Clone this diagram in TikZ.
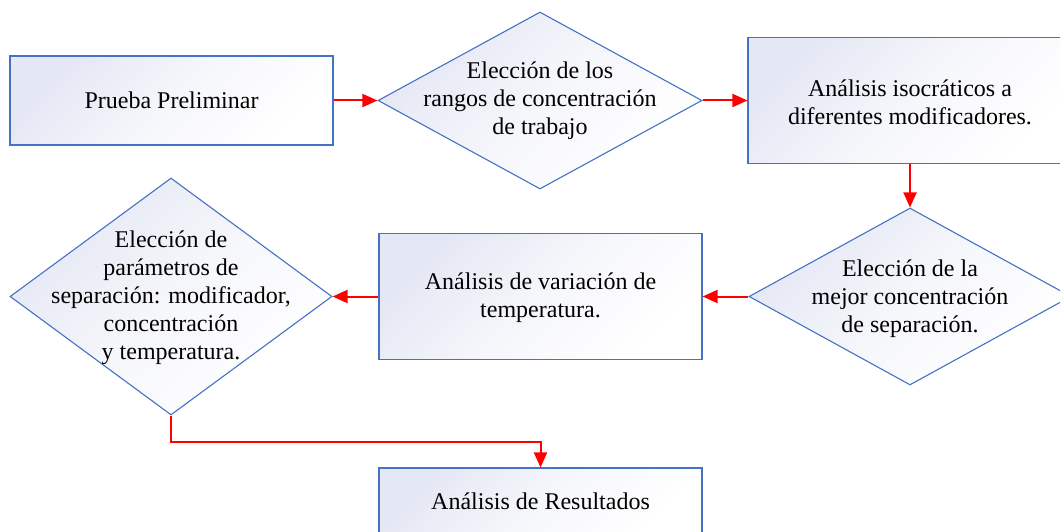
\documentclass[tikz,border=0pt]{standalone}
\usepackage{fontspec}
\setmainfont{Liberation Serif}
\usetikzlibrary{shapes.geometric,arrows.meta}
\definecolor{edgeblue}{HTML}{4472C4}
\definecolor{shadetl}{RGB}{228,231,244}
\definecolor{arrred}{HTML}{FF0000}
\begin{document}
\begin{tikzpicture}[x=1pt,y=1pt,
  base/.style={draw=edgeblue, line width=1.1pt, top color=shadetl, bottom color=white, middle color=shadetl!35!white, shading angle=45},
  procbox/.style={base, rectangle, inner sep=0pt},
  decis/.style={base, diamond, inner sep=0pt},
  txt/.style={align=center, font=\fontsize{24}{28}\selectfont, inner sep=0pt},
  arr/.style={draw=arrred, line width=2pt, -{Triangle[length=15pt,width=13pt]}}
]
\clip (0,0) rectangle (1060,531);
\fill[white] (0,0) rectangle (1060,531);

\node[procbox, minimum width=323pt, minimum height=89pt] (b1) at (171.5,430.5) {};
\node[txt] (b1t) at (b1) {Prueba Preliminar};

\node[decis, minimum width=324pt, minimum height=177pt] (d1) at (540,430.5) {};
\node[txt] (d1t) at (540,430) {Elección de los\\rangos de concentración\\de trabajo};

\node[procbox, minimum width=324pt, minimum height=126pt] (b2) at (910,430.5) {};
\node[txt] (b2t) at (910,429) {Análisis isocráticos a\\diferentes modificadores.};

\node[decis, minimum width=322pt, minimum height=177pt] (d2) at (910,234.5) {};
\node[txt] (d2t) at (910,232) {Elección de la\\mejor concentración\\de separación.};

\node[procbox, minimum width=323pt, minimum height=126pt] (b3) at (540.5,234.5) {};
\node[txt] (b3t) at (540.5,233) {Análisis de variación de\\temperatura.};

\node[decis, minimum width=322pt, minimum height=237pt] (d3) at (171,234.5) {};
\node[txt] (d3t) at (171,233) {Elección de\\parámetros de\\separación: modificador,\\concentración\\y temperatura.};

\node[procbox, minimum width=323pt, minimum height=66pt] (b4) at (540.5,30) {};
\node[txt] (b4t) at (b4) {Análisis de Resultados};

\draw[arr] (b1.east) -- (d1.west);
\draw[arr] (d1.east) -- (b2.west);
\draw[arr] (b2.south) -- (d2.north);
\draw[arr] (d2.west) -- (b3.east);
\draw[arr] (b3.west) -- (d3.east);
\draw[arr] (d3.south) -- ++(0,-26) -| (b4.north);
\end{tikzpicture}
\end{document}
